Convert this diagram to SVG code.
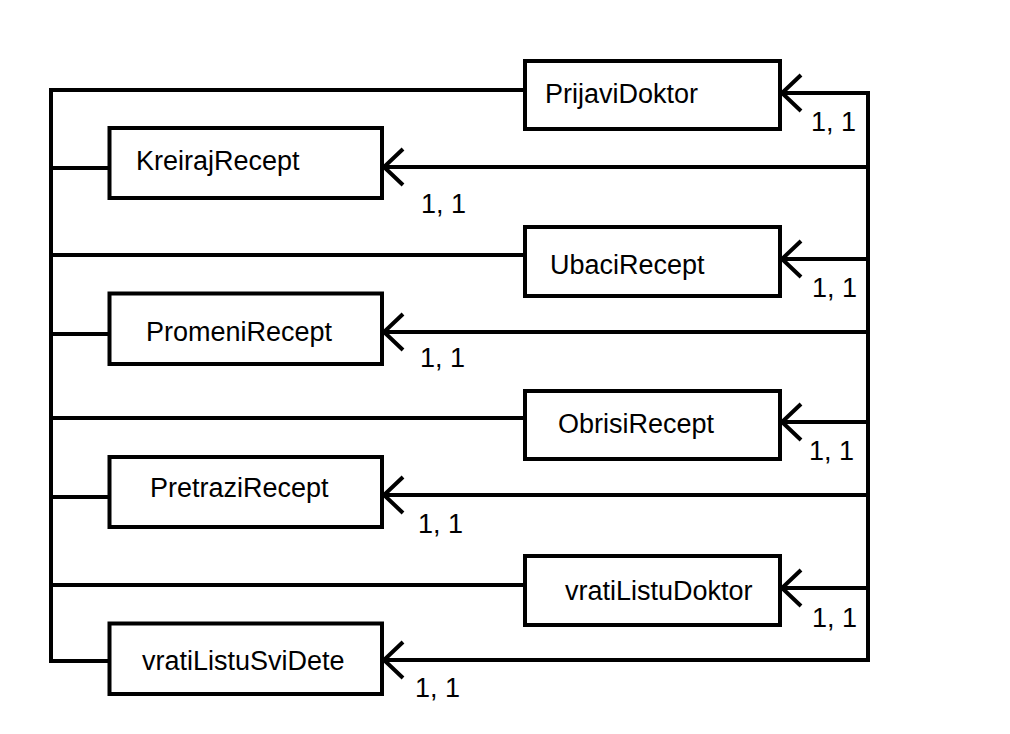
<svg xmlns="http://www.w3.org/2000/svg" width="1010" height="734" viewBox="0 0 1010 734">
<defs>
<style>
.box{fill:#fff;stroke:#000;stroke-width:4}
.t{font-family:"Liberation Sans",Arial,sans-serif;font-size:27px;fill:#000}
.c{fill:none;stroke:#000;stroke-width:4}
</style>
<marker id="open" markerUnits="userSpaceOnUse" viewBox="-24 -24 28 48" markerWidth="28" markerHeight="48" refX="0" refY="0" orient="auto" overflow="visible">
<path d="M-19,-18 L0,0 L-19,18" fill="none" stroke="#000" stroke-width="4"/>
</marker>
</defs>
<rect width="1010" height="734" fill="#fff"/>
<g id="connectors">
<path class="c" d="M525,90 H51 V661 H109.5"/>
<path class="c" d="M51,168 H109.5"/>
<path class="c" d="M51,255 H525"/>
<path class="c" d="M51,334 H109.5"/>
<path class="c" d="M51,418 H525"/>
<path class="c" d="M51,497 H109.5"/>
<path class="c" d="M51,585 H525"/>
<path class="c" d="M850,93 H868 V660 H850"/>
<path class="c" d="M868,93 H782" marker-end="url(#open)"/>
<path class="c" d="M868,167 H384" marker-end="url(#open)"/>
<path class="c" d="M868,259 H782" marker-end="url(#open)"/>
<path class="c" d="M868,332 H384" marker-end="url(#open)"/>
<path class="c" d="M868,422 H782" marker-end="url(#open)"/>
<path class="c" d="M868,495 H384" marker-end="url(#open)"/>
<path class="c" d="M868,588 H782" marker-end="url(#open)"/>
<path class="c" d="M868,660 H384" marker-end="url(#open)"/>
<text class="t" x="811" y="131">1, 1</text>
<text class="t" x="421" y="213">1, 1</text>
<text class="t" x="812" y="297">1, 1</text>
<text class="t" x="420" y="367">1, 1</text>
<text class="t" x="809" y="460">1, 1</text>
<text class="t" x="418" y="533">1, 1</text>
<text class="t" x="812" y="627">1, 1</text>
<text class="t" x="415" y="697">1, 1</text>
</g>
<g id="PrijaviDoktor"><rect class="box" x="525" y="61" width="255" height="68"/><text class="t" x="545" y="103">PrijaviDoktor</text></g>
<g id="KreirajRecept"><rect class="box" x="109.5" y="128" width="272.5" height="70"/><text class="t" x="136" y="170">KreirajRecept</text></g>
<g id="UbaciRecept"><rect class="box" x="525" y="227" width="255" height="69"/><text class="t" x="550" y="274">UbaciRecept</text></g>
<g id="PromeniRecept"><rect class="box" x="109.5" y="293.5" width="272.5" height="70.5"/><text class="t" x="146" y="341">PromeniRecept</text></g>
<g id="ObrisiRecept"><rect class="box" x="525" y="391" width="255" height="68"/><text class="t" x="558" y="433">ObrisiRecept</text></g>
<g id="PretraziRecept"><rect class="box" x="109.5" y="457" width="272.5" height="70"/><text class="t" x="150" y="497">PretraziRecept</text></g>
<g id="vratiListuDoktor"><rect class="box" x="525" y="556" width="255" height="69"/><text class="t" x="565" y="600">vratiListuDoktor</text></g>
<g id="vratiListuSviDete"><rect class="box" x="109.5" y="623.5" width="272.5" height="70.5"/><text class="t" x="142" y="670">vratiListuSviDete</text></g>
</svg>
